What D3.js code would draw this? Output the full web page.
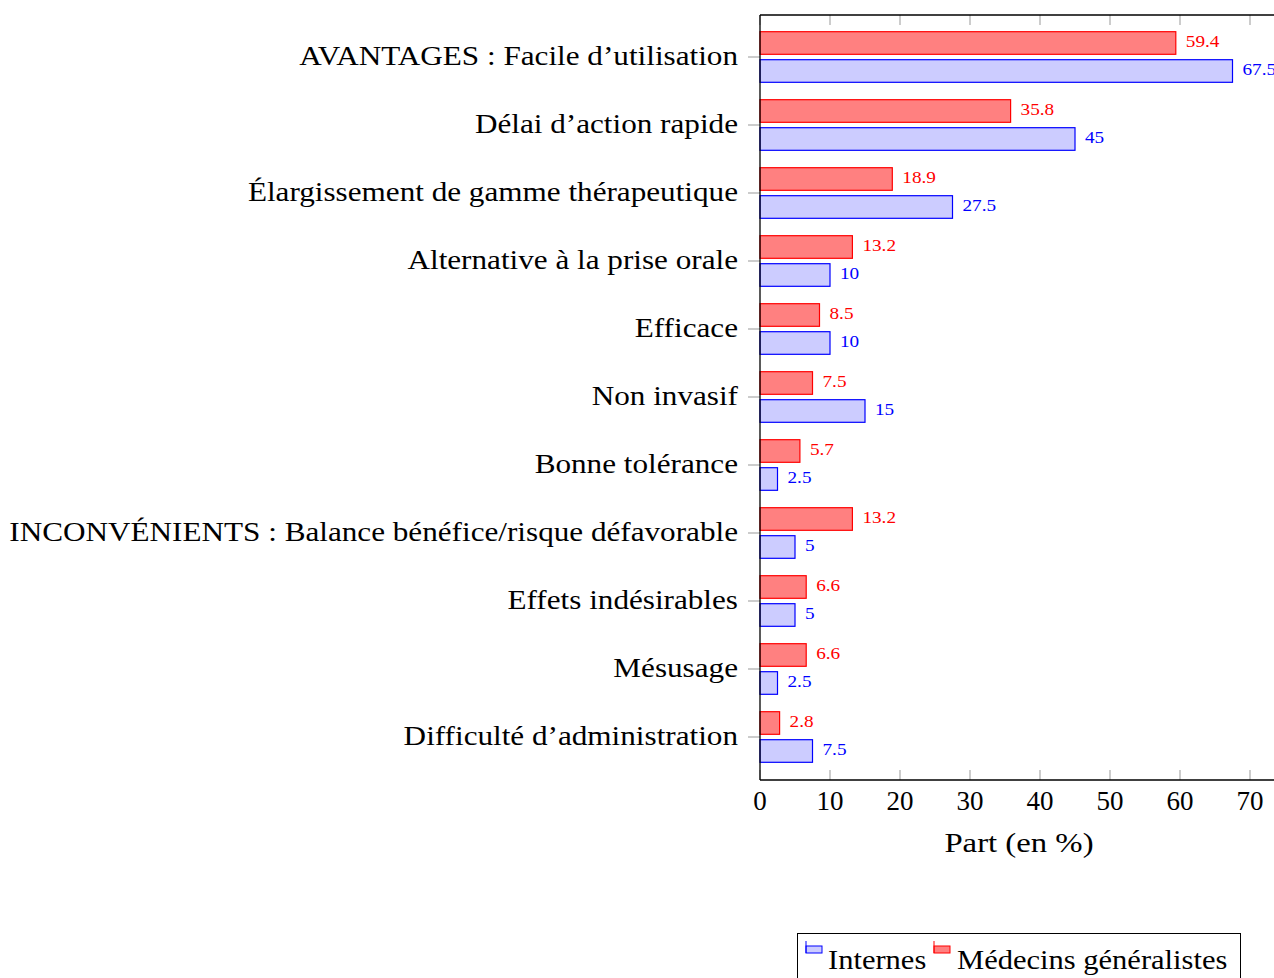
<!DOCTYPE html>
<html>
<head>
<meta charset="utf-8">
<script src="https://cdn.jsdelivr.net/npm/d3@7"></script>
<style>
  body { margin: 0; background: #fff; }
  svg { display: block; font-family: "Liberation Serif", "DejaVu Serif", serif; }
</style>
</head>
<body>
<svg id="chart"></svg>
<script>
// categories, top to bottom
const categories = [
  "AVANTAGES : Facile d’utilisation",
  "Délai d’action rapide",
  "Élargissement de gamme thérapeutique",
  "Alternative à la prise orale",
  "Efficace",
  "Non invasif",
  "Bonne tolérance",
  "INCONVÉNIENTS : Balance bénéfice/risque défavorable",
  "Effets indésirables",
  "Mésusage",
  "Difficulté d’administration"
];
const medecins = [59.4, 35.8, 18.9, 13.2, 8.5, 7.5, 5.7, 13.2, 6.6, 6.6, 2.8];
const internes = [67.5, 45, 27.5, 10, 10, 15, 2.5, 5, 5, 2.5, 7.5];
const xTicks = [0, 10, 20, 30, 40, 50, 60, 70];

const W = 1274, H = 978;
const plot = { left: 760, top: 15, right: 1278, bottom: 780 };

const svg = d3.select('#chart').attr('width', W).attr('height', H);

const x = d3.scaleLinear().domain([0, 74]).range([plot.left, plot.right]);
const y = d3.scalePoint().domain(categories).range([57, 737]);

// computer modern is wider than the serif we have, stretch the glyphs a bit
function stretch(sel, k) {
  sel.each(function () {
    const w = this.getComputedTextLength();
    d3.select(this).attr('textLength', w * k).attr('lengthAdjust', 'spacingAndGlyphs');
  });
}

const series = [
  { name: 'Médecins généralistes', values: medecins, offset: -14, fill: '#ff8080', stroke: '#ff0000' },
  { name: 'Internes', values: internes, offset: 14, fill: '#ccccff', stroke: '#0000ff' }
];
const barH = 22.6;

// ticks (grey, inside at top/bottom)
const tickG = svg.append('g').attr('stroke', '#999').attr('stroke-width', 1);
xTicks.forEach(t => {
  tickG.append('line').attr('x1', x(t)).attr('x2', x(t)).attr('y1', plot.bottom).attr('y2', plot.bottom - 10);
  tickG.append('line').attr('x1', x(t)).attr('x2', x(t)).attr('y1', plot.top).attr('y2', plot.top + 10);
});
categories.forEach(c => {
  tickG.append('line').attr('x1', plot.left - 12).attr('x2', plot.left).attr('y1', y(c)).attr('y2', y(c));
});

// bars
series.forEach(s => {
  const g = svg.append('g');
  g.selectAll('rect')
    .data(s.values)
    .enter().append('rect')
      .attr('x', x(0))
      .attr('y', (d, i) => y(categories[i]) + s.offset - barH / 2)
      .attr('width', d => x(d) - x(0))
      .attr('height', barH)
      .attr('fill', s.fill)
      .attr('stroke', s.stroke)
      .attr('stroke-width', 1.2);
  const lbl = g.selectAll('text')
    .data(s.values)
    .enter().append('text')
      .attr('x', d => x(d) + 10)
      .attr('y', (d, i) => y(categories[i]) + s.offset)
      .attr('dy', '.28em')
      .attr('fill', s.stroke)
      .style('font-size', '16px')
      .text(d => d);
  stretch(lbl, 1.2);
});

// frame (left, top, bottom)
const frame = svg.append('g').attr('stroke', '#000').attr('stroke-width', 1.3).attr('fill', 'none');
frame.append('line').attr('x1', plot.left).attr('x2', plot.left).attr('y1', plot.top).attr('y2', plot.bottom);
frame.append('line').attr('x1', plot.left).attr('x2', plot.right).attr('y1', plot.top).attr('y2', plot.top);
frame.append('line').attr('x1', plot.left).attr('x2', plot.right).attr('y1', plot.bottom).attr('y2', plot.bottom);

// category labels
const catLbl = svg.append('g').selectAll('text')
  .data(categories)
  .enter().append('text')
    .attr('x', 738)
    .attr('y', d => y(d))
    .attr('dy', '.27em')
    .attr('text-anchor', 'end')
    .style('font-size', '28px')
    .attr('fill', '#000')
    .text(d => d);
stretch(catLbl, 1.113);

// x tick labels
svg.append('g').selectAll('text')
  .data(xTicks)
  .enter().append('text')
    .attr('x', d => x(d))
    .attr('y', 810)
    .attr('text-anchor', 'middle')
    .style('font-size', '27px')
    .text(d => d);

const xTitle = svg.append('text')
  .attr('x', (plot.left + plot.right) / 2)
  .attr('y', 852)
  .attr('text-anchor', 'middle')
  .style('font-size', '28px')
  .text('Part (en %)');
stretch(xTitle, 1.17);

// legend
const leg = svg.append('g');
leg.append('rect').attr('x', 797.5).attr('y', 933.5).attr('width', 443).attr('height', 60)
  .attr('fill', '#fff').attr('stroke', '#000').attr('stroke-width', 1);
const legendItems = [
  { label: 'Internes', fill: '#ccccff', stroke: '#0000ff', x: 806, tx: 828 },
  { label: 'Médecins généralistes', fill: '#ff8080', stroke: '#ff0000', x: 934, tx: 957 }
];
legendItems.forEach(it => {
  leg.append('rect').attr('x', it.x).attr('y', 946).attr('width', 16).attr('height', 7)
    .attr('fill', it.fill).attr('stroke', it.stroke);
  leg.append('line').attr('x1', it.x).attr('x2', it.x).attr('y1', 941).attr('y2', 953)
    .attr('stroke', it.stroke);
  const t = leg.append('text').attr('x', it.tx).attr('y', 969).style('font-size', '28px').text(it.label);
  stretch(t, 1.09);
});
</script>
</body>
</html>
